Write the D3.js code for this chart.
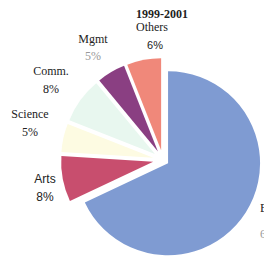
<!DOCTYPE html>
<html>
<head>
<meta charset="utf-8">
<script src="https://cdn.jsdelivr.net/npm/d3@7"></script>
<style>
  body { margin: 0; background: #fff; }
  svg { display: block; }
  text { font-family: "Liberation Serif", "DejaVu Serif", serif; font-size: 12px; fill: #222; }
</style>
</head>
<body>
<div class="chart"></div>
<script>
const categories = ["Engg.", "Arts", "Science", "Comm.", "Mgmt", "Others"];
const shares = [68, 8, 5, 8, 5, 6];
const pctLabels = ["68%", "8%", "5%", "8%", "5%", "6%"];
const yearLabel = "1999-2001";

const w = 264, h = 256;
const cx = 163, cy = 160, r = 92;

const colors = ["#7f9bd2", "#c84e6e", "#fdfbe2", "#e8f7ef", "#8a3f82", "#f0887a"];

const svg = d3.select('.chart').append('svg')
    .attr('width', w)
    .attr('height', h);

const pie = d3.pie().sort(null).startAngle(0).endAngle(2 * Math.PI);
const arcs = pie(shares);
const arc = d3.arc().innerRadius(0).outerRadius(r);

// big slice pushed a little, small ones pushed out further
const g = svg.append('g').attr('transform', `translate(${cx},${cy})`);
g.selectAll('path')
    .data(arcs)
    .enter()
    .append('path')
    .attr('d', arc)
    .attr('fill', (d, i) => colors[i])
    .attr('transform', (d, i) => {
        const mid = (d.startAngle + d.endAngle) / 2;
        const off = i === 0 ? 6 : 10;
        return `translate(${off * Math.sin(mid)},${-off * Math.cos(mid)})`;
    });

// label anchor spots (name line, then percent line)
const labelPos = [
    {x: 260, y: 212, gap: 26, anchor: 'start'},
    {x: 45, y: 183, gap: 18, anchor: 'middle'},
    {x: 30, y: 118, gap: 18, anchor: 'middle'},
    {x: 51, y: 75, gap: 18, anchor: 'middle'},
    {x: 93, y: 43, gap: 17, anchor: 'middle'}
];

labelPos.forEach((p, i) => {
    const sans = i === 1;
    svg.append('text')
        .attr('x', p.x).attr('y', p.y)
        .attr('text-anchor', p.anchor)
        .style('font-family', sans ? '"Liberation Sans", Arial, sans-serif' : null)
        .text(categories[i]);
    svg.append('text')
        .attr('x', p.x).attr('y', p.y + p.gap)
        .attr('text-anchor', p.anchor)
        .style('font-family', sans ? '"Liberation Sans", Arial, sans-serif' : null)
        .style('fill', i === 4 || i === 0 ? '#999' : null)
        .text(pctLabels[i]);
});

// title block with Others
svg.append('text')
    .attr('x', 136).attr('y', 18)
    .style('font-weight', 'bold')
    .text(yearLabel);
svg.append('text')
    .attr('x', 136).attr('y', 31)
    .text(categories[5]);
svg.append('text')
    .attr('x', 155).attr('y', 49)
    .attr('text-anchor', 'middle')
    .style('font-family', '"Liberation Sans", Arial, sans-serif')
    .style('font-size', '11px')
    .text(pctLabels[5]);
</script>
</body>
</html>
